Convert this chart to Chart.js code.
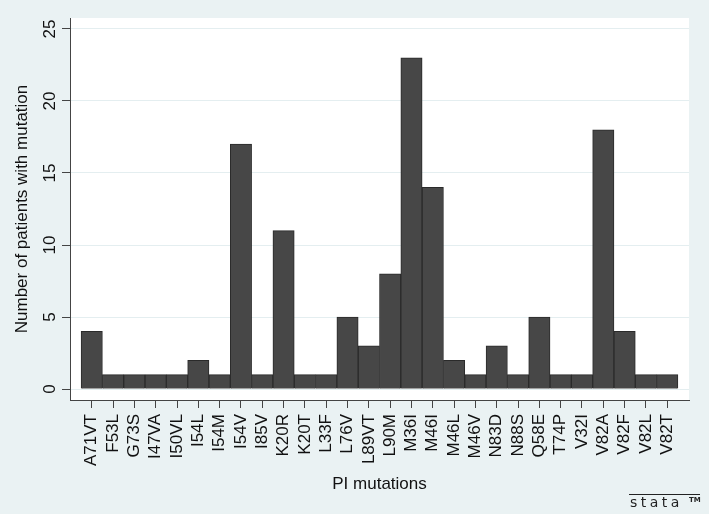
<!DOCTYPE html>
<html>
<head>
<meta charset="utf-8">
<script src="https://cdn.jsdelivr.net/npm/chart.js@4.4.1/dist/chart.umd.min.js"></script>
<style>
  html, body { margin: 0; padding: 0; background: #eaf2f3; }
  #wrap { width: 709px; height: 514px; }
</style>
</head>
<body>
<div id="wrap"><canvas id="mutChart" width="709" height="514"></canvas></div>
<script>
const mutations = ['A71VT', 'F53L', 'G73S', 'I47VA', 'I50VL', 'I54L', 'I54M', 'I54V', 'I85V', 'K20R',
    'K20T', 'L33F', 'L76V', 'L89VT', 'L90M', 'M36I', 'M46I', 'M46L', 'M46V', 'N83D',
    'N88S', 'Q58E', 'T74P', 'V32I', 'V82A', 'V82F', 'V82L', 'V82T'];
const patients = [4, 1, 1, 1, 1, 2, 1, 17, 1, 11, 1, 1, 5, 3, 8, 23, 14, 2, 1, 3, 1, 5, 1, 1, 18, 4, 1, 1];
const yTicks = [0, 5, 10, 15, 20, 25];

const font = { family: "'Liberation Sans', Arial, sans-serif", size: 17 };

// white plot region + stata logo
const stataLook = {
    id: 'stataLook',
    beforeDraw(chart) {
        const c = chart.ctx, a = chart.chartArea;
        c.save();
        c.fillStyle = '#eaf2f3';
        c.fillRect(0, 0, chart.width, chart.height);
        c.fillStyle = '#ffffff';
        c.fillRect(a.left, a.top, a.right - a.left, a.bottom - a.top);
        c.restore();
    },
    afterDraw(chart) {
        const c = chart.ctx;
        c.save();
        c.strokeStyle = '#222';
        c.lineWidth = 1;
        c.beginPath();
        c.moveTo(629, 494.5);
        c.lineTo(700, 494.5);
        c.stroke();
        c.fillStyle = '#222';
        c.font = "14px 'DejaVu Sans', sans-serif";
        c.textBaseline = 'alphabetic';
        c.letterSpacing = '3.5px';
        c.fillText('stata', 630, 507);
        c.letterSpacing = '0px';
        c.font = "bold 7px 'DejaVu Sans', sans-serif";
        c.fillText('TM', 689, 502);
        c.restore();
    }
};

const ctx = document.getElementById('mutChart').getContext('2d');
const mutChart = new Chart(ctx, {
    type: 'bar',
    data: {
        datasets: [{
            data: patients.map((v, i) => ({ x: i, y: v })),
            backgroundColor: '#474747',
            borderColor: '#2a2a2a',
            borderWidth: 1,
            categoryPercentage: 1,
            barPercentage: 1
        }]
    },
    options: {
        responsive: false,
        animation: false,
        layout: { padding: { top: 18, right: 20, left: 0, bottom: 0 } },
        plugins: {
            legend: { display: false },
            tooltip: { enabled: false }
        },
        scales: {
            x: {
                type: 'linear',
                offset: false,
                min: -1.02,
                max: 28.02,
                afterBuildTicks(scale) {
                    scale.ticks = mutations.map((m, i) => ({ value: i }));
                },
                afterFit(scale) { scale.height = 114; },
                ticks: {
                    autoSkip: false,
                    minRotation: 90,
                    maxRotation: 90,
                    padding: 6,
                    color: '#111',
                    font: font,
                    callback: (v) => mutations[v]
                },
                grid: {
                    offset: false,
                    drawOnChartArea: false,
                    drawTicks: true,
                    tickLength: 8,
                    tickColor: '#444'
                },
                border: { color: '#444', width: 1 },
                title: {
                    display: true,
                    text: 'PI mutations',
                    color: '#111',
                    font: font,
                    padding: { top: 0, bottom: 19 }
                }
            },
            y: {
                min: -0.76,
                max: 25.76,
                afterBuildTicks(scale) {
                    scale.ticks = yTicks.map(v => ({ value: v }));
                },
                afterFit(scale) { scale.width = 70; },
                ticks: {
                    minRotation: 90,
                    maxRotation: 90,
                    crossAlign: 'center',
                    padding: 2,
                    color: '#111',
                    font: font
                },
                grid: {
                    color: '#e4eef0',
                    lineWidth: 1,
                    tickLength: 8,
                    tickColor: '#444'
                },
                border: { color: '#444', width: 1 },
                title: {
                    display: true,
                    text: 'Number of patients with mutation',
                    color: '#111',
                    font: font,
                    padding: { top: 12, bottom: 0 }
                }
            }
        }
    },
    plugins: [stataLook]
});
</script>
</body>
</html>
